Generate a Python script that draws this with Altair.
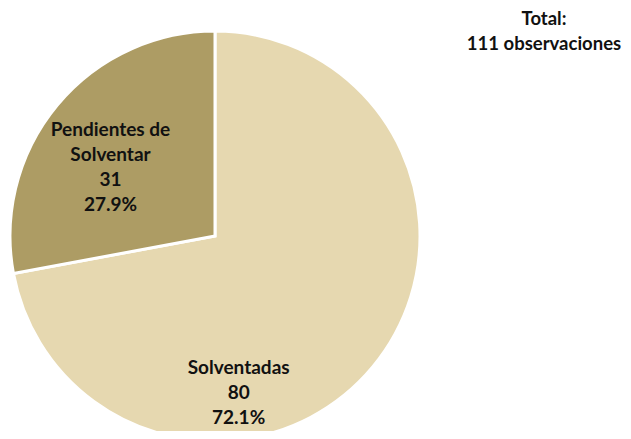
import altair as alt
import pandas as pd

categories = ["Solventadas", "Pendientes de Solventar"]
values = [80, 31]
percent_labels = ["72.1%", "27.9%"]
label_lines = ["Solventadas", "Pendientes de\nSolventar"]
colors = ["#E6D8B0", "#AD9C64"]

df = pd.DataFrame({
    "cat": categories,
    "value": values,
    "ord": [0, 1],
    "label": [f"{l}\n{v}\n{p}" for l, v, p in zip(label_lines, values, percent_labels)],
})

cx, cy, R = 207, 228, 205

base = alt.Chart(df).encode(
    theta=alt.Theta("value:Q", stack=True),
    order=alt.Order("ord:Q"),
    x=alt.value(cx),
    y=alt.value(cy),
)

arc = base.mark_arc(outerRadius=R, stroke="white", strokeWidth=3).encode(
    color=alt.Color("cat:N", scale=alt.Scale(domain=categories, range=colors), legend=None)
)

txt_style = dict(font="Lato", fontSize=19, fontWeight="bold", color="#111111",
                 lineBreak="\n", lineHeight=25, align="center", baseline="middle")

t1 = base.mark_text(radius=134, thetaOffset=0.70, **txt_style).encode(
    text=alt.condition(alt.datum.cat == "Solventadas", "label:N", alt.value("")))
t2 = base.mark_text(radius=149, thetaOffset=0.10, **txt_style).encode(
    text=alt.condition(alt.datum.cat == "Pendientes de Solventar", "label:N", alt.value("")))

total = alt.Chart(pd.DataFrame({"t": ["Total:\n111 observaciones"]})).mark_text(
    **{**txt_style, "lineHeight": 25, "fontSize": 18.5}).encode(
    text="t:N", x=alt.value(536), y=alt.value(11))

chart = alt.layer(arc, t1, t2, total).properties(
    width=615, height=423, padding=0, autosize=alt.AutoSizeParams(type="none")
).configure_view(stroke=None)

chart.save("out.html", embed_options={"renderer": "svg", "actions": False})
